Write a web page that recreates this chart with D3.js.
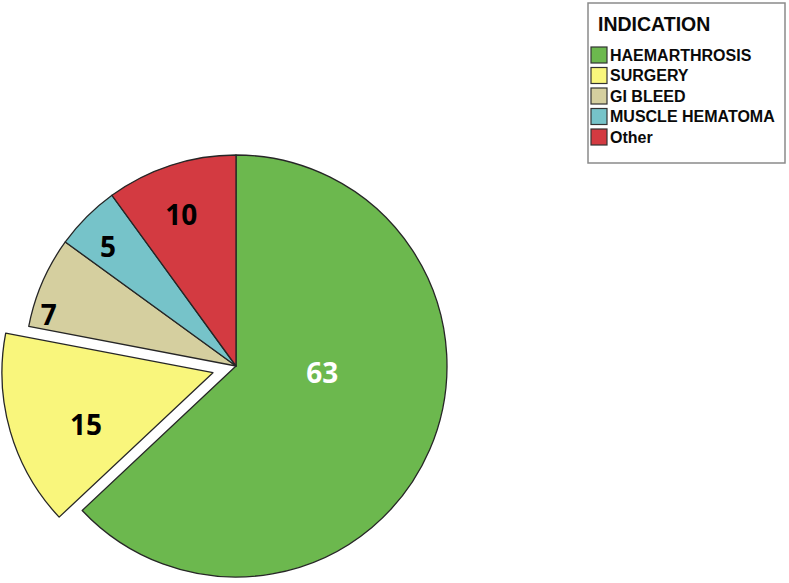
<!DOCTYPE html>
<html>
<head>
<meta charset="utf-8">
<script src="https://cdn.jsdelivr.net/npm/d3@7"></script>
<style>
  body { margin: 0; background: #fff; }
  svg { display: block; }
</style>
</head>
<body>
<svg width="789" height="583"></svg>
<script>
const categories = ['HAEMARTHROSIS', 'SURGERY', 'GI BLEED', 'MUSCLE HEMATOMA', 'Other'];
const values = [63, 15, 7, 5, 10];
const colors = ['#6cb84e', '#f9f67c', '#d5cf9f', '#76c3c9', '#d33a41'];
const labelColors = ['#fff', '#000', '#000', '#000', '#000'];
const exploded = ['SURGERY'];

const svg = d3.select('svg'),
      cx = 236, cy = 366, radius = 211, explode = 24;

// label placement (fraction of radius, angle nudge in degrees)
const labelR = [0.41, 0.65, 0.92, 0.83, 0.76];
const labelNudge = [-19, -6, -8, -2, -2];

const slices = d3.pie().sort(null).value((d) => d.value)(
  categories.map((c, i) => ({ name: c, value: values[i], color: colors[i], i: i }))
);

const arc = d3.arc().innerRadius(0).outerRadius(radius);

const g = svg.append('g').attr('transform', 'translate(' + cx + ',' + cy + ')');

const slice = g.selectAll('g.slice')
  .data(slices)
  .enter().append('g')
    .attr('class', 'slice')
    .attr('transform', (d) => {
      if (exploded.indexOf(d.data.name) < 0) return null;
      const a = (d.startAngle + d.endAngle) / 2;
      return 'translate(' + (Math.sin(a) * explode) + ',' + (-Math.cos(a) * explode) + ')';
    });

slice.append('path')
  .attr('d', arc)
  .attr('fill', (d) => d.data.color)
  .attr('stroke', '#262626')
  .attr('stroke-width', 1.3)
  .attr('stroke-linejoin', 'round');

slice.append('text')
  .attr('transform', (d) => {
    const a = (d.startAngle + d.endAngle) / 2 + labelNudge[d.data.i] * Math.PI / 180;
    const r = labelR[d.data.i] * radius;
    return 'translate(' + (Math.sin(a) * r) + ',' + (-Math.cos(a) * r) + ')';
  })
  .attr('text-anchor', 'middle')
  .attr('dy', '0.36em')
  .attr('font-family', '"Open Sans", sans-serif')
  .attr('font-weight', 'bold')
  .attr('font-size', 28)
  .attr('fill', (d) => labelColors[d.data.i])
  .text((d) => d.data.value);

// legend
const legend = svg.append('g').attr('transform', 'translate(588,3)');

legend.append('rect')
  .attr('width', 197)
  .attr('height', 160)
  .attr('fill', '#fff')
  .attr('stroke', '#8a8a8a')
  .attr('stroke-width', 1.5);

legend.append('text')
  .attr('x', 10)
  .attr('y', 28)
  .attr('font-family', '"Liberation Sans", Arial, sans-serif')
  .attr('font-weight', 'bold')
  .attr('font-size', 19.5)
  .attr('fill', '#0a0a0a')
  .text('INDICATION');

const item = legend.selectAll('g.item')
  .data(categories)
  .enter().append('g')
    .attr('class', 'item')
    .attr('transform', (d, i) => 'translate(3,' + (44 + i * 20.5) + ')');

item.append('rect')
  .attr('width', 16)
  .attr('height', 16)
  .attr('fill', (d, i) => colors[i])
  .attr('stroke', '#333')
  .attr('stroke-width', 1.2);

item.append('text')
  .attr('x', 19)
  .attr('y', 8)
  .attr('dy', '0.36em')
  .attr('font-family', '"Liberation Sans", Arial, sans-serif')
  .attr('font-weight', 'bold')
  .attr('font-size', 16)
  .attr('fill', '#0a0a0a')
  .text((d) => d);
</script>
</body>
</html>
